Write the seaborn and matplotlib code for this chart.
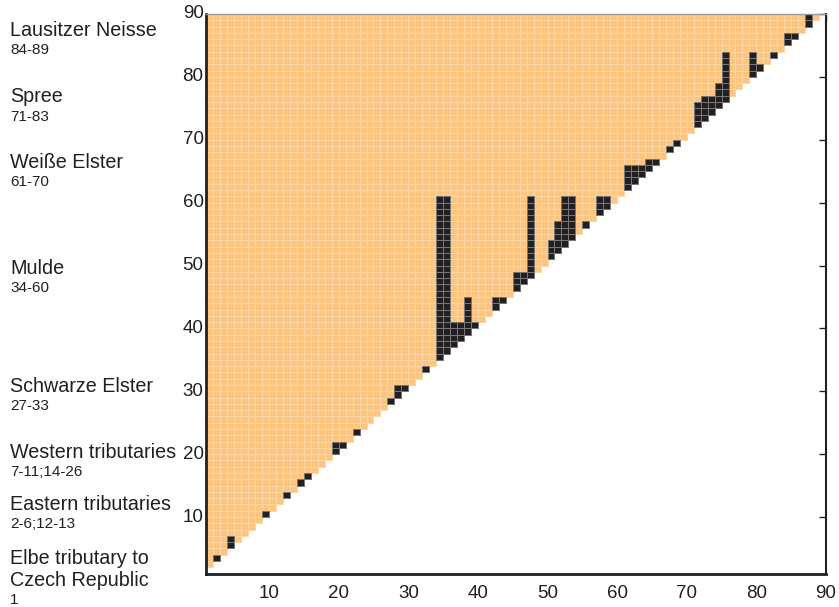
import numpy as np
import pandas as pd
import matplotlib
matplotlib.use('Agg')
import matplotlib.pyplot as plt
import seaborn as sns
from matplotlib.colors import ListedColormap, to_rgba

# ---- data ----
n_sites = 89

# dark cells, written as runs down one column: (site_x, first_site_y, last_site_y)
dark_runs = [
    (2, 3, 3), (4, 5, 6), (9, 10, 10), (12, 13, 13), (14, 15, 15), (15, 16, 16),
    (19, 20, 21), (20, 21, 21), (22, 23, 23),
    (27, 28, 28), (28, 29, 30), (29, 30, 30), (32, 33, 33),
    (34, 35, 60), (35, 36, 60), (36, 37, 40), (37, 38, 40), (38, 39, 44), (39, 40, 40),
    (42, 43, 44), (43, 44, 44),
    (45, 46, 48), (46, 47, 48), (47, 48, 60),
    (50, 51, 53), (51, 52, 56), (52, 53, 60), (53, 54, 60),
    (55, 56, 56), (57, 58, 60), (58, 59, 60),
    (61, 62, 65), (62, 63, 65), (63, 64, 65), (64, 65, 66), (65, 66, 66),
    (67, 68, 68), (68, 69, 69),
    (71, 72, 75), (72, 73, 76), (73, 74, 76), (74, 75, 78), (75, 76, 83),
    (79, 80, 83), (80, 81, 81), (82, 83, 83),
    (84, 85, 86), (85, 86, 86), (87, 88, 89),
]

group_names = ['Lausitzer Neisse', 'Spree', 'Weiße Elster', 'Mulde', 'Schwarze Elster',
               'Western tributaries', 'Eastern tributaries', 'Elbe tributary to\nCzech Republic']
group_sites = ['84-89', '71-83', '61-70', '34-60', '27-33', '7-11;14-26', '2-6;12-13', '1']

tick_values = [10, 20, 30, 40, 50, 60, 70, 80, 90]

# ---- build the matrices (index 0 unused so site k sits in [k, k+1]) ----
size = n_sites + 1
orange = np.full((size, size), np.nan)
dark = np.full((size, size), np.nan)
for x in range(1, n_sites):
    for y in range(x + 1, n_sites + 1):
        orange[y, x] = 0
for x, y0, y1 in dark_runs:
    for y in range(y0, y1 + 1):
        dark[y, x] = 1
        orange[y, x] = np.nan

orange_df = pd.DataFrame(orange)
dark_df = pd.DataFrame(dark)


def outline_cells(mesh, values, color):
    # edge colour only on the cells that hold a value
    edges = np.zeros((values.size, 4))
    edges[~np.isnan(values.ravel())] = to_rgba(color)
    mesh.set_edgecolors(edges)
    mesh.set_linewidth(0.6)


# ---- figure ----
sns.set_style('white')
plt.rcParams['font.family'] = ['Liberation Sans', 'DejaVu Sans']

fig = plt.figure(figsize=(8.39, 6.07), dpi=100)
ax = fig.add_axes([206.4 / 839, 33.4 / 607, (826 - 206.4) / 839, (573.6 - 14) / 607])

sns.heatmap(orange_df, ax=ax, cmap=ListedColormap(['#fdc57f']), cbar=False,
            vmin=0, vmax=1)
outline_cells(ax.collections[-1], orange, '#fdd8a4')
sns.heatmap(dark_df, ax=ax, cmap=ListedColormap(['#231f20']), cbar=False,
            vmin=0, vmax=1)
outline_cells(ax.collections[-1], dark, '#767676')

ax.set_xlim(1, 90)
ax.set_ylim(1, 90)
ax.set_xticks(tick_values)
ax.set_yticks(tick_values)
ax.set_xticklabels([str(t) for t in tick_values], rotation=0, fontsize=13.5, color='#231f20')
ax.set_yticklabels([str(t) for t in tick_values], rotation=0, fontsize=13.5, color='#231f20')
ax.set_xlabel('')
ax.set_ylabel('')
ax.tick_params(direction='in', length=5, width=1, top=True, right=True,
               labeltop=False, labelright=False, color='#231f20')
ax.tick_params(axis='y', pad=2)
ax.tick_params(axis='x', pad=8)

for side in ['left', 'bottom', 'right', 'top']:
    ax.spines[side].set_visible(True)
ax.spines['left'].set_linewidth(2)
ax.spines['bottom'].set_linewidth(2)
ax.spines['right'].set_linewidth(1.5)
ax.spines['left'].set_color('#231f20')
ax.spines['bottom'].set_color('#231f20')
ax.spines['right'].set_color('#231f20')
ax.spines['top'].set_linewidth(1)
ax.spines['top'].set_color('#9a9a9a')

# group labels on the left (pixel rows of the first name line in the reference)
name_rows = [30, 97, 162, 268, 386, 452, 504, 558]
for name, sites, row in zip(group_names, group_sites, name_rows):
    lines = name.split('\n')
    for k, line in enumerate(lines):
        fig.text(10 / 839, 1 - (row + 22 * k) / 607, line, fontsize=14.2,
                 color='#231f20', ha='left', va='center')
    below = row + 20 + 22 * (len(lines) - 1)
    fig.text(10 / 839, 1 - below / 607, sites, fontsize=11,
             color='#231f20', ha='left', va='center')

fig.savefig('out.png', dpi=100)
